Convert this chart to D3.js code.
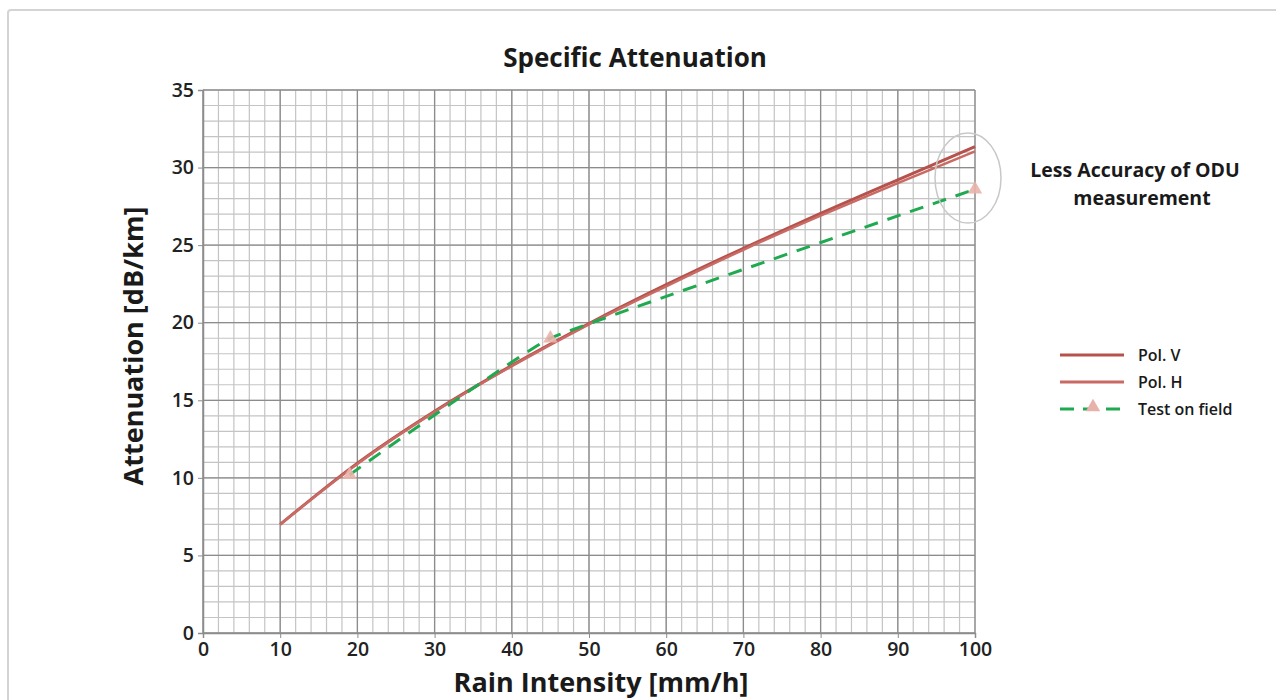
<!DOCTYPE html>
<html>
<head>
<meta charset="utf-8">
<script src="https://cdn.jsdelivr.net/npm/d3@7"></script>
<style>
  body { margin: 0; background: #fff; }
  text { font-family: "Open Sans", Lato, sans-serif; }
</style>
</head>
<body>
<div id="container"></div>
<script>
// data
let rain = [10, 20, 30, 40, 50, 60, 70, 80, 90, 100];
let polV = [7.0, 10.95, 14.3, 17.25, 19.95, 22.45, 24.8, 27.05, 29.2, 31.35];
let polH = [7.0, 10.9, 14.25, 17.2, 19.9, 22.35, 24.7, 26.9, 29.0, 31.05];
let fieldRain = [19, 45, 100];
let fieldAtt = [10.2, 19.0, 28.6];
let xTicks = [0, 10, 20, 30, 40, 50, 60, 70, 80, 90, 100];
let yTicks = [0, 5, 10, 15, 20, 25, 30, 35];

let w = 1276;
let h = 700;
let plotL = 203, plotR = 975, plotT = 90, plotB = 633;

let viz = d3.select("#container")
  .append("svg")
    .attr("width", w)
    .attr("height", h);

// outer frame
viz.append("rect")
  .attr("x", 8).attr("y", 10)
  .attr("width", w + 10).attr("height", h + 10)
  .attr("rx", 3)
  .attr("fill", "none")
  .attr("stroke", "#d4d4d4")
  .attr("stroke-width", 2);

let xScale = d3.scaleLinear().domain([0, 100]).range([plotL, plotR]);
let yScale = d3.scaleLinear().domain([0, 35]).range([plotB, plotT]);

// grid: minor then major
let grid = viz.append("g");
grid.selectAll(".vminor").data(d3.range(0, 101, 2))
  .enter().append("line")
    .attr("x1", d => xScale(d)).attr("x2", d => xScale(d))
    .attr("y1", plotT).attr("y2", plotB)
    .attr("stroke", "#c4c4c4").attr("stroke-width", 1.2);
grid.selectAll(".hminor").data(d3.range(0, 36, 1))
  .enter().append("line")
    .attr("y1", d => yScale(d)).attr("y2", d => yScale(d))
    .attr("x1", plotL).attr("x2", plotR)
    .attr("stroke", "#c4c4c4").attr("stroke-width", 1.2);
grid.selectAll(".vmajor").data(xTicks)
  .enter().append("line")
    .attr("x1", d => xScale(d)).attr("x2", d => xScale(d))
    .attr("y1", plotT).attr("y2", plotB)
    .attr("stroke", "#8c8c8c").attr("stroke-width", 1.3);
grid.selectAll(".hmajor").data(yTicks)
  .enter().append("line")
    .attr("y1", d => yScale(d)).attr("y2", d => yScale(d))
    .attr("x1", plotL).attr("x2", plotR)
    .attr("stroke", "#8c8c8c").attr("stroke-width", 1.3);

// axes
let xAxis = d3.axisBottom(xScale).tickValues(xTicks).tickSize(5).tickPadding(4);
let xAxisGroup = viz.append("g").attr("transform", "translate(0," + plotB + ")").call(xAxis);
let yAxis = d3.axisLeft(yScale).tickValues(yTicks).tickSize(5).tickPadding(4);
let yAxisGroup = viz.append("g").attr("transform", "translate(" + plotL + ",0)").call(yAxis);
[xAxisGroup, yAxisGroup].forEach(g => {
  g.select(".domain").attr("stroke", "#8c8c8c").attr("stroke-width", 1.5);
  g.selectAll(".tick line").attr("stroke", "#8c8c8c");
  g.selectAll("text")
    .attr("font-size", 19.5).attr("font-weight", 600)
    .attr("fill", "#222")
    .style("font-family", "'Open Sans', sans-serif");
});

// curves
let line = d3.line()
  .x(d => xScale(d[0]))
  .y(d => yScale(d[1]))
  .curve(d3.curveMonotoneX);

viz.append("path")
  .datum(d3.zip(rain, polV))
  .attr("d", line)
  .attr("fill", "none").attr("stroke", "#b5524c").attr("stroke-width", 3);
viz.append("path")
  .datum(d3.zip(rain, polH))
  .attr("d", line)
  .attr("fill", "none").attr("stroke", "#c96a64").attr("stroke-width", 2.5);

let fieldLine = d3.line()
  .x(d => xScale(d[0]))
  .y(d => yScale(d[1]))
  .curve(d3.curveCardinal.tension(0.75));
let field = d3.zip(fieldRain, fieldAtt);
viz.append("path")
  .datum(field)
  .attr("d", fieldLine)
  .attr("fill", "none").attr("stroke", "#1faa50").attr("stroke-width", 3)
  .attr("stroke-dasharray", "14,10");

let tri = d3.symbol().type(d3.symbolTriangle).size(90);
viz.selectAll(".tri").data(field)
  .enter().append("path")
    .attr("d", tri)
    .attr("transform", d => "translate(" + xScale(d[0]) + "," + yScale(d[1]) + ")")
    .attr("fill", "#e8b2ab").attr("opacity", 0.9);

// annotation ellipse
viz.append("ellipse")
  .attr("cx", 968).attr("cy", 178).attr("rx", 33).attr("ry", 45)
  .attr("fill", "none").attr("stroke", "#c8c8c8").attr("stroke-width", 1.5);

viz.append("text")
  .attr("x", 1135).attr("y", 177)
  .attr("text-anchor", "middle")
  .attr("font-size", 19.5).attr("font-weight", "bold").attr("fill", "#1a1a1a")
  .text("Less Accuracy of ODU");
viz.append("text")
  .attr("x", 1142).attr("y", 205)
  .attr("text-anchor", "middle")
  .attr("font-size", 19.5).attr("font-weight", "bold").attr("fill", "#1a1a1a")
  .text("measurement");

// title and axis titles
viz.append("text")
  .attr("x", 635).attr("y", 67)
  .attr("text-anchor", "middle")
  .attr("font-size", 26).attr("font-weight", "bold").attr("fill", "#1a1a1a")
  .text("Specific Attenuation");
viz.append("text")
  .attr("x", 601).attr("y", 692)
  .attr("text-anchor", "middle")
  .attr("font-size", 27).attr("font-weight", "bold").attr("fill", "#1a1a1a")
  .text("Rain Intensity [mm/h]");
viz.append("text")
  .attr("transform", "translate(143,346) rotate(-90)")
  .attr("text-anchor", "middle")
  .attr("font-size", 27).attr("font-weight", "bold").attr("fill", "#1a1a1a")
  .text("Attenuation [dB/km]");

// legend
let legend = viz.append("g");
let legendItems = [
  { name: "Pol. V", y: 355, color: "#b5524c", dash: null },
  { name: "Pol. H", y: 382, color: "#c96a64", dash: null },
  { name: "Test on field", y: 409, color: "#1faa50", dash: "14,9" }
];
legendItems.forEach(d => {
  legend.append("line")
    .attr("x1", 1060).attr("x2", 1124).attr("y1", d.y).attr("y2", d.y)
    .attr("stroke", d.color).attr("stroke-width", 3)
    .attr("stroke-dasharray", d.dash);
  legend.append("text")
    .attr("x", 1138).attr("y", d.y + 6)
    .attr("font-size", 16).attr("font-weight", 600).attr("fill", "#1a1a1a")
    .text(d.name);
});
legend.append("path")
  .attr("d", tri)
  .attr("transform", "translate(1093,407)")
  .attr("fill", "#e8b2ab");
</script>
</body>
</html>
